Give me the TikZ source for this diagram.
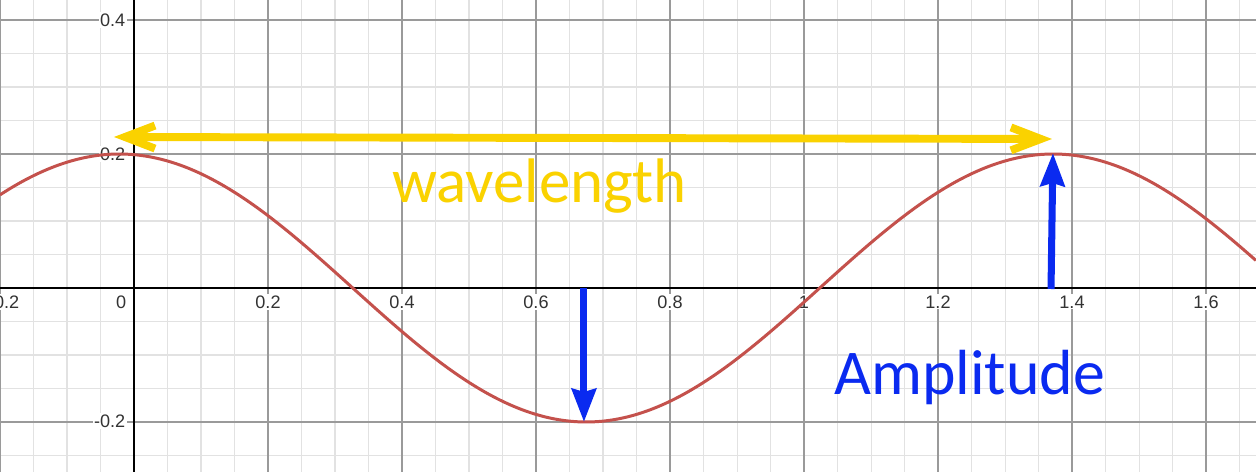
\documentclass[tikz,border=0pt]{standalone}
\usepackage{fontspec}
\setmainfont{Liberation Sans}
\newfontfamily\calfont{Carlito}
\usetikzlibrary{arrows.meta}
\definecolor{minorgrid}{HTML}{E2E2E2}
\definecolor{majorgrid}{HTML}{9A9A9A}
\definecolor{curvered}{HTML}{C4514C}
\definecolor{wlyellow}{HTML}{FAD200}
\definecolor{ampblue}{HTML}{0A2AF0}
\definecolor{ticktext}{HTML}{333333}
\tikzset{
  minorline/.style={draw=minorgrid, line width=0.6pt},
  majorline/.style={draw=majorgrid, line width=0.7pt},
  axisline/.style={draw=black, line width=1.2pt},
  wave/.style={draw=curvered, line width=1.7pt},
  ticklbl/.style={font=\fontsize{10.3}{12}\selectfont, text=ticktext, fill=white, inner sep=0.8pt},
  wlarrow/.style={draw=wlyellow, line width=4.5pt, {Straight Barb[length=0.6cm,width=0.46cm]}-{Straight Barb[length=0.6cm,width=0.46cm]}},
  amparrow/.style={draw=ampblue, line width=4pt, -{Stealth[length=0.66cm,width=0.48cm,inset=0.06cm]}},
  bigtext/.style={font=\calfont\fontsize{35.8}{40}\selectfont, inner sep=0pt},
  ampstyle/.style={font=\calfont\fontsize{36.3}{40}\selectfont, inner sep=0pt}
}
\begin{document}
\begin{tikzpicture}[x=13.4cm, y=13.4cm]
\useasboundingbox (-0.2,-0.27463) rectangle (1.67463,0.42985);
\fill[white] (-0.2,-0.27463) rectangle (1.67463,0.42985);
% minor grid
\foreach \i in {-4,...,33} {
  \draw[minorline] ({\i*0.05},-0.27463) -- ({\i*0.05},0.42985);
}
\foreach \j in {-5,...,8} {
  \draw[minorline] (-0.2,{\j*0.05}) -- (1.67463,{\j*0.05});
}
% major grid
\foreach \i in {-1,...,8} {
  \draw[majorline] ({\i*0.2},-0.27463) -- ({\i*0.2},0.42985);
}
\foreach \j in {-1,...,2} {
  \draw[majorline] (-0.2,{\j*0.2}) -- (1.67463,{\j*0.2});
}
% axes
\draw[axisline] (-0.2,0) -- (1.67463,0);
\draw[axisline] (0,-0.27463) -- (0,0.42985);
% tick labels
\node[ticklbl, anchor=base east] (xm02) at (-0.1687,-0.0299) {-0.2};
\node[ticklbl, anchor=base east] (x0) at (-0.009,-0.0299) {0};
\foreach \v/\t in {0.2/0.2, 0.4/0.4, 0.6/0.6, 0.8/0.8, 1/1, 1.2/1.2, 1.4/1.4, 1.6/1.6} {
  \node[ticklbl, anchor=base] (x\t) at (\v,-0.0299) {\t};
}
\node[ticklbl, anchor=base east] (y04) at (-0.0104,0.391) {0.4};
\node[ticklbl, anchor=base east] (y02) at (-0.0104,0.191) {0.2};
\node[ticklbl, anchor=base east] (ym02) at (-0.0104,-0.2075) {-0.2};
% curve
\draw[wave] plot[domain=-0.2:1.67463, samples=240, smooth] (\x, {-0.2*cos(deg(2*pi*(\x-0.675)/1.394))});
% arrow end points
\coordinate (wlL) at (-0.0299,0.2254);
\coordinate (wlR) at (1.3701,0.2224);
\coordinate (dnA) at (0.6716,0);
\coordinate (dnB) at (0.6716,-0.2);
\coordinate (upA) at (1.3687,-0.0015);
\coordinate (upB) at (1.3716,0.2015);
\draw[wlarrow] (wlL) -- (wlR);
\draw[amparrow] (dnA) -- (dnB);
\draw[amparrow] (upA) -- (upB);
% labels
\node[bigtext, text=wlyellow, anchor=base west] (wl) at (0.385,0.1269) {wavelength};
\node[ampstyle, text=ampblue, anchor=base west] (amp) at (1.0448,-0.1597) {Amplitude};
\end{tikzpicture}
\end{document}
